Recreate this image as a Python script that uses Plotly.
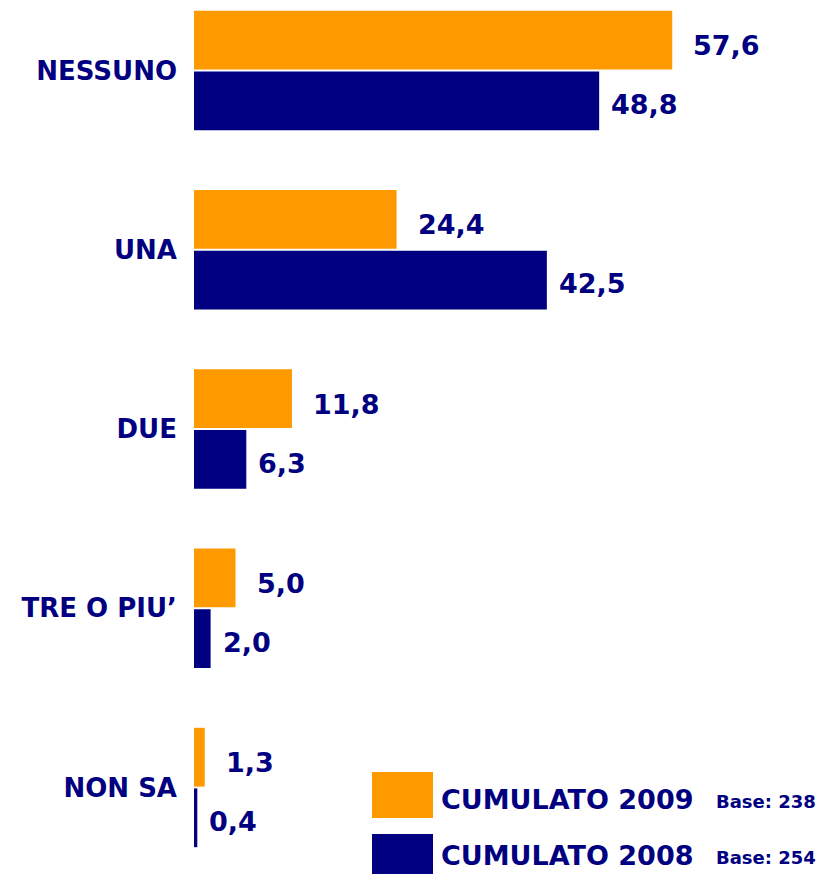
import plotly.graph_objects as go

categories = ["NESSUNO", "UNA", "DUE", "TRE O PIU’", "NON SA"]
values_2009 = [57.6, 24.4, 11.8, 5.0, 1.3]
values_2008 = [48.8, 42.5, 6.3, 2.0, 0.4]
series_names = ["CUMULATO 2009", "CUMULATO 2008"]
base_labels = ["Base: 238", "Base: 254"]

ORANGE = "#FF9900"
NAVY = "#000080"
FONT = "DejaVu Sans"

fig = go.Figure()
fig.add_trace(go.Bar(y=categories, x=values_2009, orientation="h", name=series_names[0],
                     marker=dict(color=ORANGE, line=dict(width=0)), showlegend=False))
fig.add_trace(go.Bar(y=categories, x=values_2008, orientation="h", name=series_names[1],
                     marker=dict(color=NAVY, line=dict(width=0)), showlegend=False))

def fmt(v):
    return f"{v:.1f}".replace(".", ",")

annotations = []
for vals, xs, ys in ((values_2009, 19, 25), (values_2008, 10, -34)):
    for c, v in zip(categories, vals):
        annotations.append(dict(x=v, y=c, xref="x", yref="y", text=fmt(v), showarrow=False,
                                xanchor="left", yanchor="middle", xshift=xs, yshift=ys,
                                font=dict(family=FONT, size=27, color=NAVY, weight="bold")))

# page offset (body margin) of 8px
OFF = 8
W, H = 825 - OFF, 874 - OFF
L = 194 - OFF
PW = W - L
def px(x):
    return (x - OFF - L) / PW
def py(y):
    return 1 - (y - OFF) / H

shapes = [
    dict(type="rect", xref="paper", yref="paper", x0=px(372), x1=px(433), y0=py(818), y1=py(772),
         fillcolor=ORANGE, line=dict(width=0)),
    dict(type="rect", xref="paper", yref="paper", x0=px(372), x1=px(433), y0=py(884), y1=py(834),
         fillcolor=NAVY, line=dict(width=0)),
]
for name, base, yc in ((series_names[0], base_labels[0], 799), (series_names[1], base_labels[1], 855)):
    annotations.append(dict(x=px(439), y=py(yc), xref="paper", yref="paper", text=name, showarrow=False,
                            xanchor="left", yanchor="middle",
                            font=dict(family=FONT, size=27, color=NAVY, weight="bold")))
    annotations.append(dict(x=px(714), y=py(yc + 2), xref="paper", yref="paper", text=base, showarrow=False,
                            xanchor="left", yanchor="middle",
                            font=dict(family=FONT, size=18, color=NAVY, weight="bold")))

spacing = 179.25
top = -(70.5 - OFF) / spacing
bottom = top + H / spacing

fig.update_layout(
    width=W, height=H,
    margin=dict(l=L, r=0, t=0, b=0),
    paper_bgcolor="white", plot_bgcolor="white",
    barmode="group", bargap=0.324, bargroupgap=0.03,
    shapes=shapes, annotations=annotations,
    xaxis=dict(range=[0, 76], visible=False, showgrid=False, zeroline=False),
    yaxis=dict(type="category", range=[bottom, top], showgrid=False, zeroline=False,
               showline=False, ticks="", ticklabelstandoff=16,
               tickfont=dict(family=FONT, size=26, color=NAVY, weight="bold")),
)

fig.write_html("out.html")
